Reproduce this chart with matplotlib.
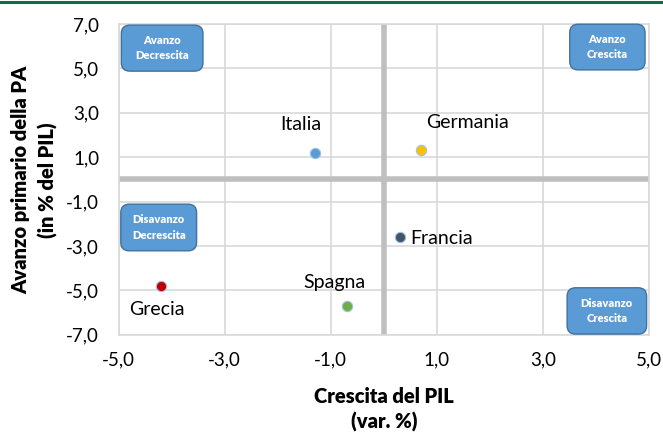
import numpy as np
import matplotlib.pyplot as plt
from matplotlib.patches import FancyBboxPatch
from matplotlib.lines import Line2D

plt.rcParams['font.family'] = ['Lato', 'DejaVu Sans']

# dati
paesi = ['Italia', 'Germania', 'Francia', 'Spagna', 'Grecia']
crescita_pil = [-1.3, 0.7, 0.3, -0.7, -4.2]
avanzo_pa = [1.2, 1.3, -2.6, -5.7, -4.8]
colori = ['#5B9BD5', '#FFC000', '#44546A', '#70AD47', '#C00000']

x_ticks = [-5, -3, -1, 1, 3, 5]
y_ticks = [-7, -5, -3, -1, 1, 3, 5, 7]

quadranti = ['Avanzo\nDecrescita', 'Avanzo\nCrescita',
             'Disavanzo\nDecrescita', 'Disavanzo\nCrescita']

# offset etichette (punti) e allineamento
label_off = [(-10, 20, 'center'), (4, 20, 'left'), (8, -1, 'left'),
             (-9, 17, 'center'), (-3, -17, 'center')]
# riquadri in frazione di assi: x0, y0, x1, y1
box_pos = [(0.005, 0.848, 0.159, 0.996), (0.851, 0.852, 0.993, 0.999),
           (0.004, 0.270, 0.147, 0.420), (0.846, 0.002, 0.996, 0.151)]

fig = plt.figure(figsize=(6.63, 4.32), dpi=100)
ax = fig.add_axes([0.179, 0.2252, 0.7995, 0.7195])

ax.set_xlim(-5, 5)
ax.set_ylim(-7, 7)
ax.set_xticks(x_ticks)
ax.set_yticks(y_ticks)
ax.set_xticklabels([f'{v:.1f}'.replace('.', ',') for v in x_ticks])
ax.set_yticklabels([f'{v:.1f}'.replace('.', ',') for v in y_ticks])
ax.tick_params(length=0, labelsize=13.5, colors='black')
ax.tick_params(axis='x', pad=12)
ax.tick_params(axis='y', pad=14)
ax.grid(True, color='#D9D9D9', linewidth=1.2)
ax.set_axisbelow(True)
for s in ax.spines.values():
    s.set_color('#D9D9D9')
    s.set_linewidth(1.2)

ax.axvline(0, color='#BFBFBF', linewidth=4, zorder=1.5)
ax.axhline(0, color='#BFBFBF', linewidth=4, zorder=1.5)

for i, p in enumerate(paesi):
    ax.scatter(crescita_pil[i], avanzo_pa[i], s=55, color=colori[i],
               edgecolor='#9DC3E6', linewidth=0.8, zorder=3)
    dx, dy, ha = label_off[i]
    ax.annotate(p, (crescita_pil[i], avanzo_pa[i]), xytext=(dx, dy),
                textcoords='offset points', ha=ha, va='center', fontsize=14)

asp = 530 / 310.8
for txt, (x0, y0, x1, y1) in zip(quadranti, box_pos):
    b = FancyBboxPatch((x0, y0), x1 - x0, y1 - y0, transform=ax.transAxes,
                       boxstyle='round,pad=0,rounding_size=0.016',
                       mutation_aspect=asp, facecolor='#5B9BD5',
                       edgecolor='#41719C', linewidth=1, zorder=4,
                       clip_on=False)
    ax.add_patch(b)
    ax.text((x0 + x1) / 2, (y0 + y1) / 2, txt, transform=ax.transAxes,
            ha='center', va='center', color='white', fontsize=8,
            fontweight='heavy', linespacing=1.45, zorder=5)

fig.text(0.5794, 0.052, 'Crescita del PIL\n(var. %)', ha='center',
         va='center', fontsize=14.5, fontweight='heavy', linespacing=1.35)
fig.text(0.052, 0.583, 'Avanzo primario della PA\n(in % del PIL)',
         ha='center', va='center', rotation=90, fontsize=14.5,
         fontweight='heavy', linespacing=1.5)

# riga verde in alto
fig.add_artist(Line2D([0, 1], [0.9965, 0.9965], transform=fig.transFigure,
                      color='#0E6B4A', linewidth=2.2))

fig.savefig('out.png', dpi=100)
